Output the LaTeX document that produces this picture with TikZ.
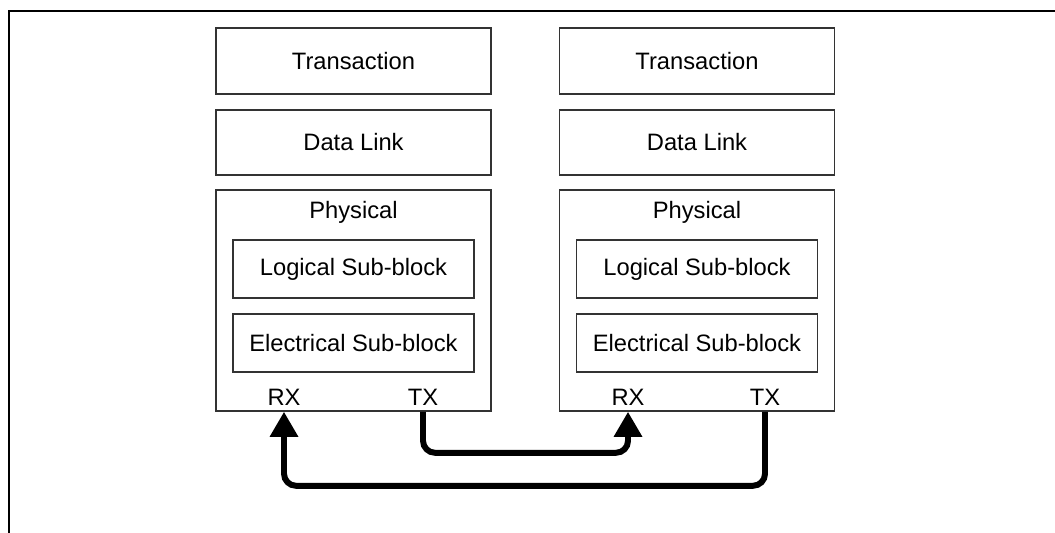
\documentclass[tikz,border=0pt]{standalone}
\usepackage{fontspec}
\setmainfont{Liberation Sans}
\usetikzlibrary{arrows.meta,positioning,calc}

\begin{document}
\begin{tikzpicture}[
        x=0.02cm, y=-0.02cm,
        layer/.style={rectangle, draw=black!80, line width=0.9pt, minimum width=5.5cm, minimum height=1.31cm, align=center, font=\fontsize{13.5}{16}\selectfont},
        sublayer/.style={layer, minimum width=4.82cm, minimum height=1.16cm},
        phys/.style={rectangle, draw=black!80, line width=0.9pt, minimum width=5.5cm, minimum height=4.42cm},
        lbl/.style={font=\fontsize{13.5}{16}\selectfont, inner sep=0pt},
        link/.style={line width=3.4pt, rounded corners=0.24cm, -{Triangle[length=0.5cm, width=0.54cm]}}
    ]
        \useasboundingbox (0,0) rectangle (1055,533);
        % Frame
        \draw[line width=0.8pt] (9,533) -- (9,11) -- (1055,11);

        % Left stack
        \node[layer] (transL) at (353.5,61) {Transaction};
        \node[layer] (dlL) at (353.5,142.5) {Data Link};
        \node[phys] (physL) at (353.5,300.5) {};
        \node[lbl] (physlblL) at (353.5,212) {Physical};
        \node[sublayer] (logL) at (353.5,269) {Logical Sub-block};
        \node[sublayer] (elecL) at (353.5,343) {Electrical Sub-block};
        \node[lbl] (rxL) at (284,397) {RX};
        \node[lbl] (txL) at (423,397) {TX};

        % Right stack
        \node[layer] (transR) at (697,61) {Transaction};
        \node[layer] (dlR) at (697,142.5) {Data Link};
        \node[phys] (physR) at (697,300.5) {};
        \node[lbl] (physlblR) at (697,212) {Physical};
        \node[sublayer] (logR) at (697,269) {Logical Sub-block};
        \node[sublayer] (elecR) at (697,343) {Electrical Sub-block};
        \node[lbl] (rxR) at (628,397) {RX};
        \node[lbl] (txR) at (765,397) {TX};

        % Links
        \draw[link] (txL |- physL.south) -- ++(0,41) -| (rxR |- physR.south);
        \draw[link] (txR |- physR.south) -- ++(0,74) -| (rxL |- physL.south);
    \end{tikzpicture}
\end{document}
